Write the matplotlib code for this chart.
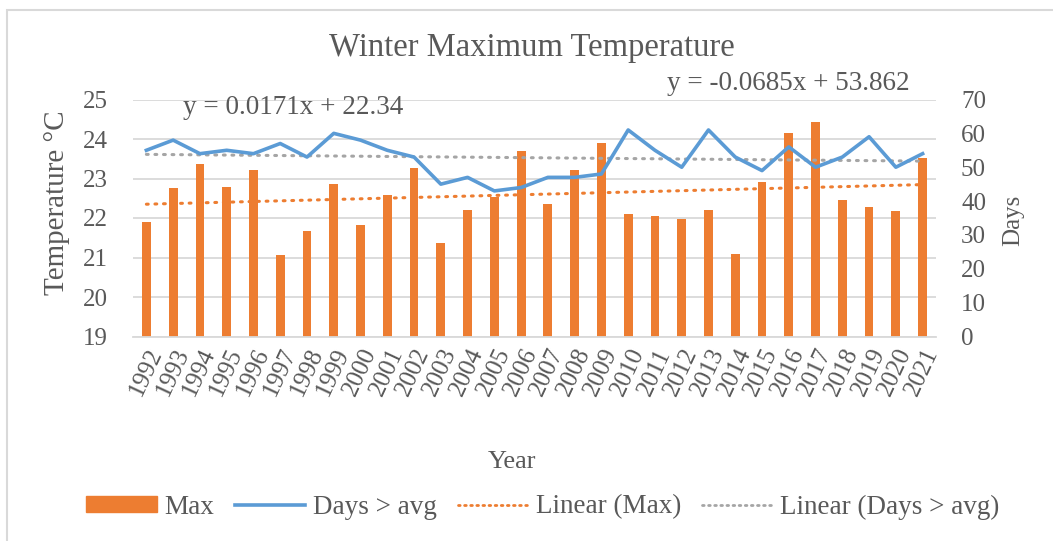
import numpy as np
import matplotlib
matplotlib.use('Agg')
import matplotlib.pyplot as plt
from matplotlib.patches import Rectangle
from matplotlib.lines import Line2D

plt.rcParams['font.family'] = ['Liberation Serif', 'DejaVu Serif']

years = [str(y) for y in range(1992, 2022)]
max_temp = [21.91, 22.75, 23.37, 22.78, 23.22, 21.06, 21.68, 22.85, 21.82, 22.59,
            23.27, 21.36, 22.20, 22.54, 23.70, 22.36, 23.22, 23.89, 22.10, 22.04,
            21.98, 22.20, 21.10, 22.91, 24.15, 24.44, 22.46, 22.27, 22.17, 23.53]
days_above = [55, 58, 54, 55, 54, 57, 53, 60, 58, 55,
              53, 45, 47, 43, 44, 47, 47, 48, 61, 55,
              50, 61, 53, 49, 56, 50, 53, 59, 50, 54]
eq_max = 'y = 0.0171x + 22.34'
eq_days = 'y = -0.0685x + 53.862'

ORANGE = '#ED7D31'
BLUE = '#5B9BD5'
GRAY = '#A5A5A5'
TXT = '#595959'
GRID = '#D9D9D9'

W, H = 1053, 541
fig = plt.figure(figsize=(W / 100, H / 100), dpi=100)
fig.patches.append(Rectangle((7 / W, -0.1), 1.2, 1 - 10 / H + 0.1, transform=fig.transFigure,
                             fill=False, edgecolor=GRID, linewidth=1.5))

ax = fig.add_axes([133 / W, 1 - 336.5 / H, (936 - 133) / W, (336.5 - 99.5) / H])
ax2 = ax.twinx()

x = np.arange(len(years))
ax.bar(x, max_temp, width=0.33, color=ORANGE, zorder=2)

# trend lines (linear fit like Excel, x = 1..n)
xi = x + 1
p1 = np.polyfit(xi, max_temp, 1)
p2 = np.polyfit(xi, days_above, 1)
ax.plot(x, np.polyval(p1, xi), color=ORANGE, lw=2.2, linestyle=(0, (0.6, 2.2)),
        dash_capstyle='round', zorder=3)
ax2.plot(x, np.polyval(p2, xi), color=GRAY, lw=2.2, linestyle=(0, (0.6, 2.2)),
         dash_capstyle='round', zorder=3)
ax2.plot(x, days_above, color=BLUE, lw=2.6, zorder=4)

ax.set_xlim(-0.5, len(years) - 0.5)
ax.set_ylim(19, 25)
ax2.set_ylim(0, 70)
ax.set_yticks(range(19, 26))
ax2.set_yticks(range(0, 71, 10))
ax.grid(axis='y', color=GRID, lw=1.3, zorder=0)
ax.set_axisbelow(True)

for a in (ax, ax2):
    for s in a.spines.values():
        s.set_visible(False)
    a.tick_params(length=0, labelsize=18, colors=TXT)
ax.spines['bottom'].set_visible(True)
ax.spines['bottom'].set_color(GRID)
ax.spines['bottom'].set_linewidth(1.3)

ax.set_xticks(x)
ax.set_xticklabels(years, rotation=65, ha='right', rotation_mode='anchor', fontsize=18)
ax.tick_params(axis='x', pad=6)
ax.tick_params(axis='y', pad=18)
ax2.tick_params(axis='y', pad=18)

fig.text(532 / W, 1 - 48 / H, 'Winter Maximum Temperature', ha='center', va='center',
         fontsize=23.5, color=TXT)
fig.text(57 / W, 1 - 203 / H, 'Temperature °C', rotation=90, ha='center', va='center',
         fontsize=21, color=TXT)
fig.text(1013 / W, 1 - 220 / H, 'Days', rotation=90, ha='center', va='center',
         fontsize=18, color=TXT)
fig.text(512 / W, 1 - 462 / H, 'Year', ha='center', va='center', fontsize=19, color=TXT)
fig.text(183 / W, 1 - 108 / H, eq_max, ha='left', va='center', fontsize=19.5, color=TXT)
fig.text(667 / W, 1 - 84 / H, eq_days, ha='left', va='center', fontsize=19.5, color=TXT)

handles = [Rectangle((0, 0), 1, 1, color=ORANGE),
           Line2D([], [], color=BLUE, lw=2.6),
           Line2D([], [], color=ORANGE, lw=2, linestyle=(0, (0.6, 1.6)), dash_capstyle='round'),
           Line2D([], [], color=GRAY, lw=2, linestyle=(0, (0.6, 1.6)), dash_capstyle='round')]
labels = ['Max', 'Days > avg', 'Linear (Max)', 'Linear (Days > avg)']
fig.legend(handles, labels, loc='center', bbox_to_anchor=(543 / W, 1 - 507 / H), ncol=4,
           frameon=False, fontsize=19.5, labelcolor=TXT, handlelength=2.6, handletextpad=0.3,
           columnspacing=0.75, handleheight=0.5)

fig.savefig('out.png', dpi=100)
